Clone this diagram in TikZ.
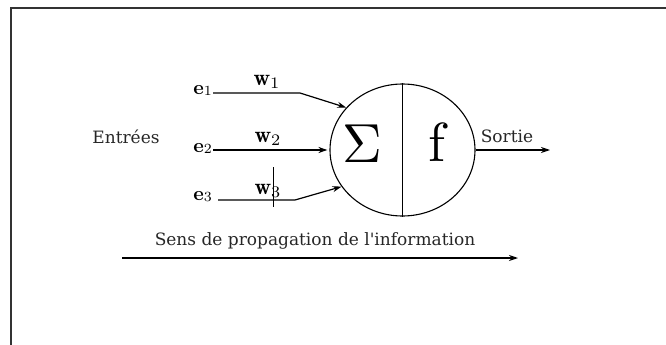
\documentclass[tikz,border=0pt]{standalone}
\usepackage{fontspec}
\newfontfamily\dvs{DejaVu Serif}
\usetikzlibrary{arrows.meta,shapes.geometric}
\begin{document}
\begin{tikzpicture}[x=1pt,y=-1pt,
  wire/.style={line width=1.2pt},
  arr/.style={wire,-{Stealth[length=9pt,width=6pt]}},
  txt/.style={inner sep=0pt, font=\dvs\fontsize{17}{19}\selectfont, text=black!85},
  elbl/.style={inner sep=0pt, anchor=east},
  wlbl/.style={inner sep=0pt}]
\useasboundingbox (0,0) rectangle (666,345);
\draw[line width=1.4pt, black!80] (666,8) -- (11,8) -- (11,345);
% neuron
\node[draw, ellipse, minimum width=145, minimum height=132, line width=1.1pt, inner sep=0pt] (n) at (402.5,150) {};
\draw[wire] (n.north) -- (n.south);
\node[inner sep=0pt] (sig) at (362,144) {\scalebox{5.5}{$\Sigma$}};
\node[inner sep=0pt] (fn) at (437,142) {\scalebox{5.5}{f}};
% inputs
\node[elbl] (e1) at (212,90) {\scalebox{2}{\textbf{e}\raisebox{-0.5pt}{\scriptsize 1}}};
\node[elbl] (e2) at (212,148) {\scalebox{2}{\textbf{e}\raisebox{-0.5pt}{\scriptsize 2}}};
\node[elbl] (e3) at (212,197) {\scalebox{2}{\textbf{e}\raisebox{-0.5pt}{\scriptsize 3}}};
\coordinate (a1) at (213,93);
\coordinate (a2) at (213,150);
\coordinate (a3) at (218,200);
\draw[arr] (a1) -- (300,93) -- (n.143);
\draw[arr, shorten >=2pt] (a2) -- (n.west);
\draw[arr] (a3) -- (295,200) -- (n.211);
\node[wlbl] (w1) at (267,82) {\scalebox{2.3}{$\mathbf{w}_1$}};
\node[wlbl] (w2) at (268,139) {\scalebox{2.3}{$\mathbf{w}_2$}};
\node[wlbl] (w3) at (268,191) {\scalebox{2.3}{$\mathbf{w}_3$}};
\coordinate (t0) at (273,167);
\coordinate (t1) at (273,207);
\draw[line width=0.8pt] (t0) -- (t1);
% labels
\node[txt] (ent) at (126,137) {Entrées};
\node[txt] (sor) at (507,136) {Sortie};
\coordinate (out) at (550,150);
\draw[arr] (n.east) -- (out);
% propagation
\coordinate (p0) at (122,258);
\coordinate (p1) at (518,258);
\draw[arr] (p0) -- (p1);
\node[txt] (prop) at (315,241) {Sens de propagation de l'information};
\end{tikzpicture}
\end{document}
